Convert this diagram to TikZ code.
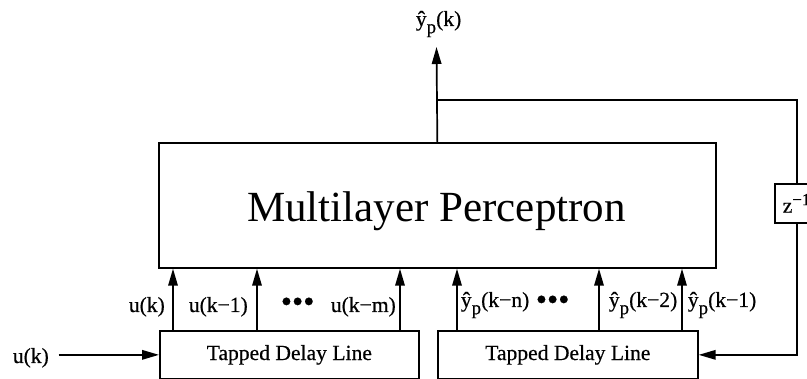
\documentclass[tikz,border=0pt]{standalone}
\usepackage{fontspec}
\setmainfont{Liberation Serif}
% regular shapes, slightly thickened strokes for the small labels
\newfontfamily\lblfont{Liberation Serif}[BoldFont={Liberation Serif},BoldFeatures={FakeBold=0.5}]
\usetikzlibrary{arrows.meta}
% estimated output with subscript p
\newcommand{\yhp}{\^{y}\raisebox{-0.33em}{\fontsize{19}{20}\selectfont p}}
\newcommand{\dotsrow}{{\fontsize{32}{32}\selectfont \textbullet\textbullet\textbullet}}
\begin{document}
\begin{tikzpicture}[x=1pt,y=-1pt,line width=1.7pt,
  blk/.style={draw,line width=1.7pt,inner sep=0pt,anchor=north west},
  sig/.style={-{Triangle[length=17pt,width=9.5pt]}},
  lbl/.style={font=\lblfont\bfseries\fontsize{21.6}{24}\selectfont,inner sep=0pt},
  big/.style={font=\fontsize{43}{46}\selectfont,inner sep=0pt}]
\useasboundingbox (0,0) rectangle (807,379);
\clip (0,0) rectangle (807,379);

% main network block
\node[blk,minimum width=557pt,minimum height=125pt] (mlp) at (158,142) {};
\node[big,anchor=base] (mlpname) at (436.5,222) {Multilayer Perceptron};

% delay lines
\node[blk,minimum width=259pt,minimum height=48pt,lbl] (tdl1) at (159,330) {Tapped Delay Line};
\node[blk,minimum width=260pt,minimum height=48pt,lbl] (tdl2) at (437,330) {Tapped Delay Line};

% unit delay in the feedback path
\node[blk,minimum width=44pt,minimum height=39pt,lbl] (zbox) at (774,183) {z\textsuperscript{\fontsize{17}{18}\selectfont −1}};

% output
\coordinate (yout) at (436.5,47);
\draw[sig] (mlp.north) -- (yout);
\node[lbl,anchor=base west] (youtlbl) at (415,26) {\yhp(k)};

% feedback loop
\coordinate (tap) at (436.5,100);
\draw (tap) -| (zbox.north);
\draw[sig] (zbox.south) |- (tdl2.east);

% external input
\node[lbl,anchor=base west] (uin) at (12,363) {u(k)};
\draw[sig] ([xshift=9pt]uin.east |- tdl1.west) -- (tdl1.west);

% taps of the input delay line
\draw[sig] (173,0 |- tdl1.north) -- (173,0 |- mlp.south);
\draw[sig] (257,0 |- tdl1.north) -- (257,0 |- mlp.south);
\draw[sig] (400,0 |- tdl1.north) -- (400,0 |- mlp.south);
\node[lbl,anchor=base west] (u0) at (128,312) {u(k)};
\node[lbl,anchor=base west] (u1) at (188,312) {u(k−1)};
\node[lbl,anchor=base west] (ud) at (280,312) {\dotsrow};
\node[lbl,anchor=base west] (um) at (330,312) {u(k−m)};

% taps of the output delay line
\draw[sig] (457,0 |- tdl2.north) -- (457,0 |- mlp.south);
\draw[sig] (599,0 |- tdl2.north) -- (599,0 |- mlp.south);
\draw[sig] (682,0 |- tdl2.north) -- (682,0 |- mlp.south);
\node[lbl,anchor=base west] (yn) at (460,307) {\yhp(k−n)};
\node[lbl,anchor=base west] (yd) at (535,310) {\dotsrow};
\node[lbl,anchor=base west] (y2) at (608,307) {\yhp(k−2)};
\node[lbl,anchor=base west] (y1) at (687,307) {\yhp(k−1)};
\end{tikzpicture}
\end{document}
